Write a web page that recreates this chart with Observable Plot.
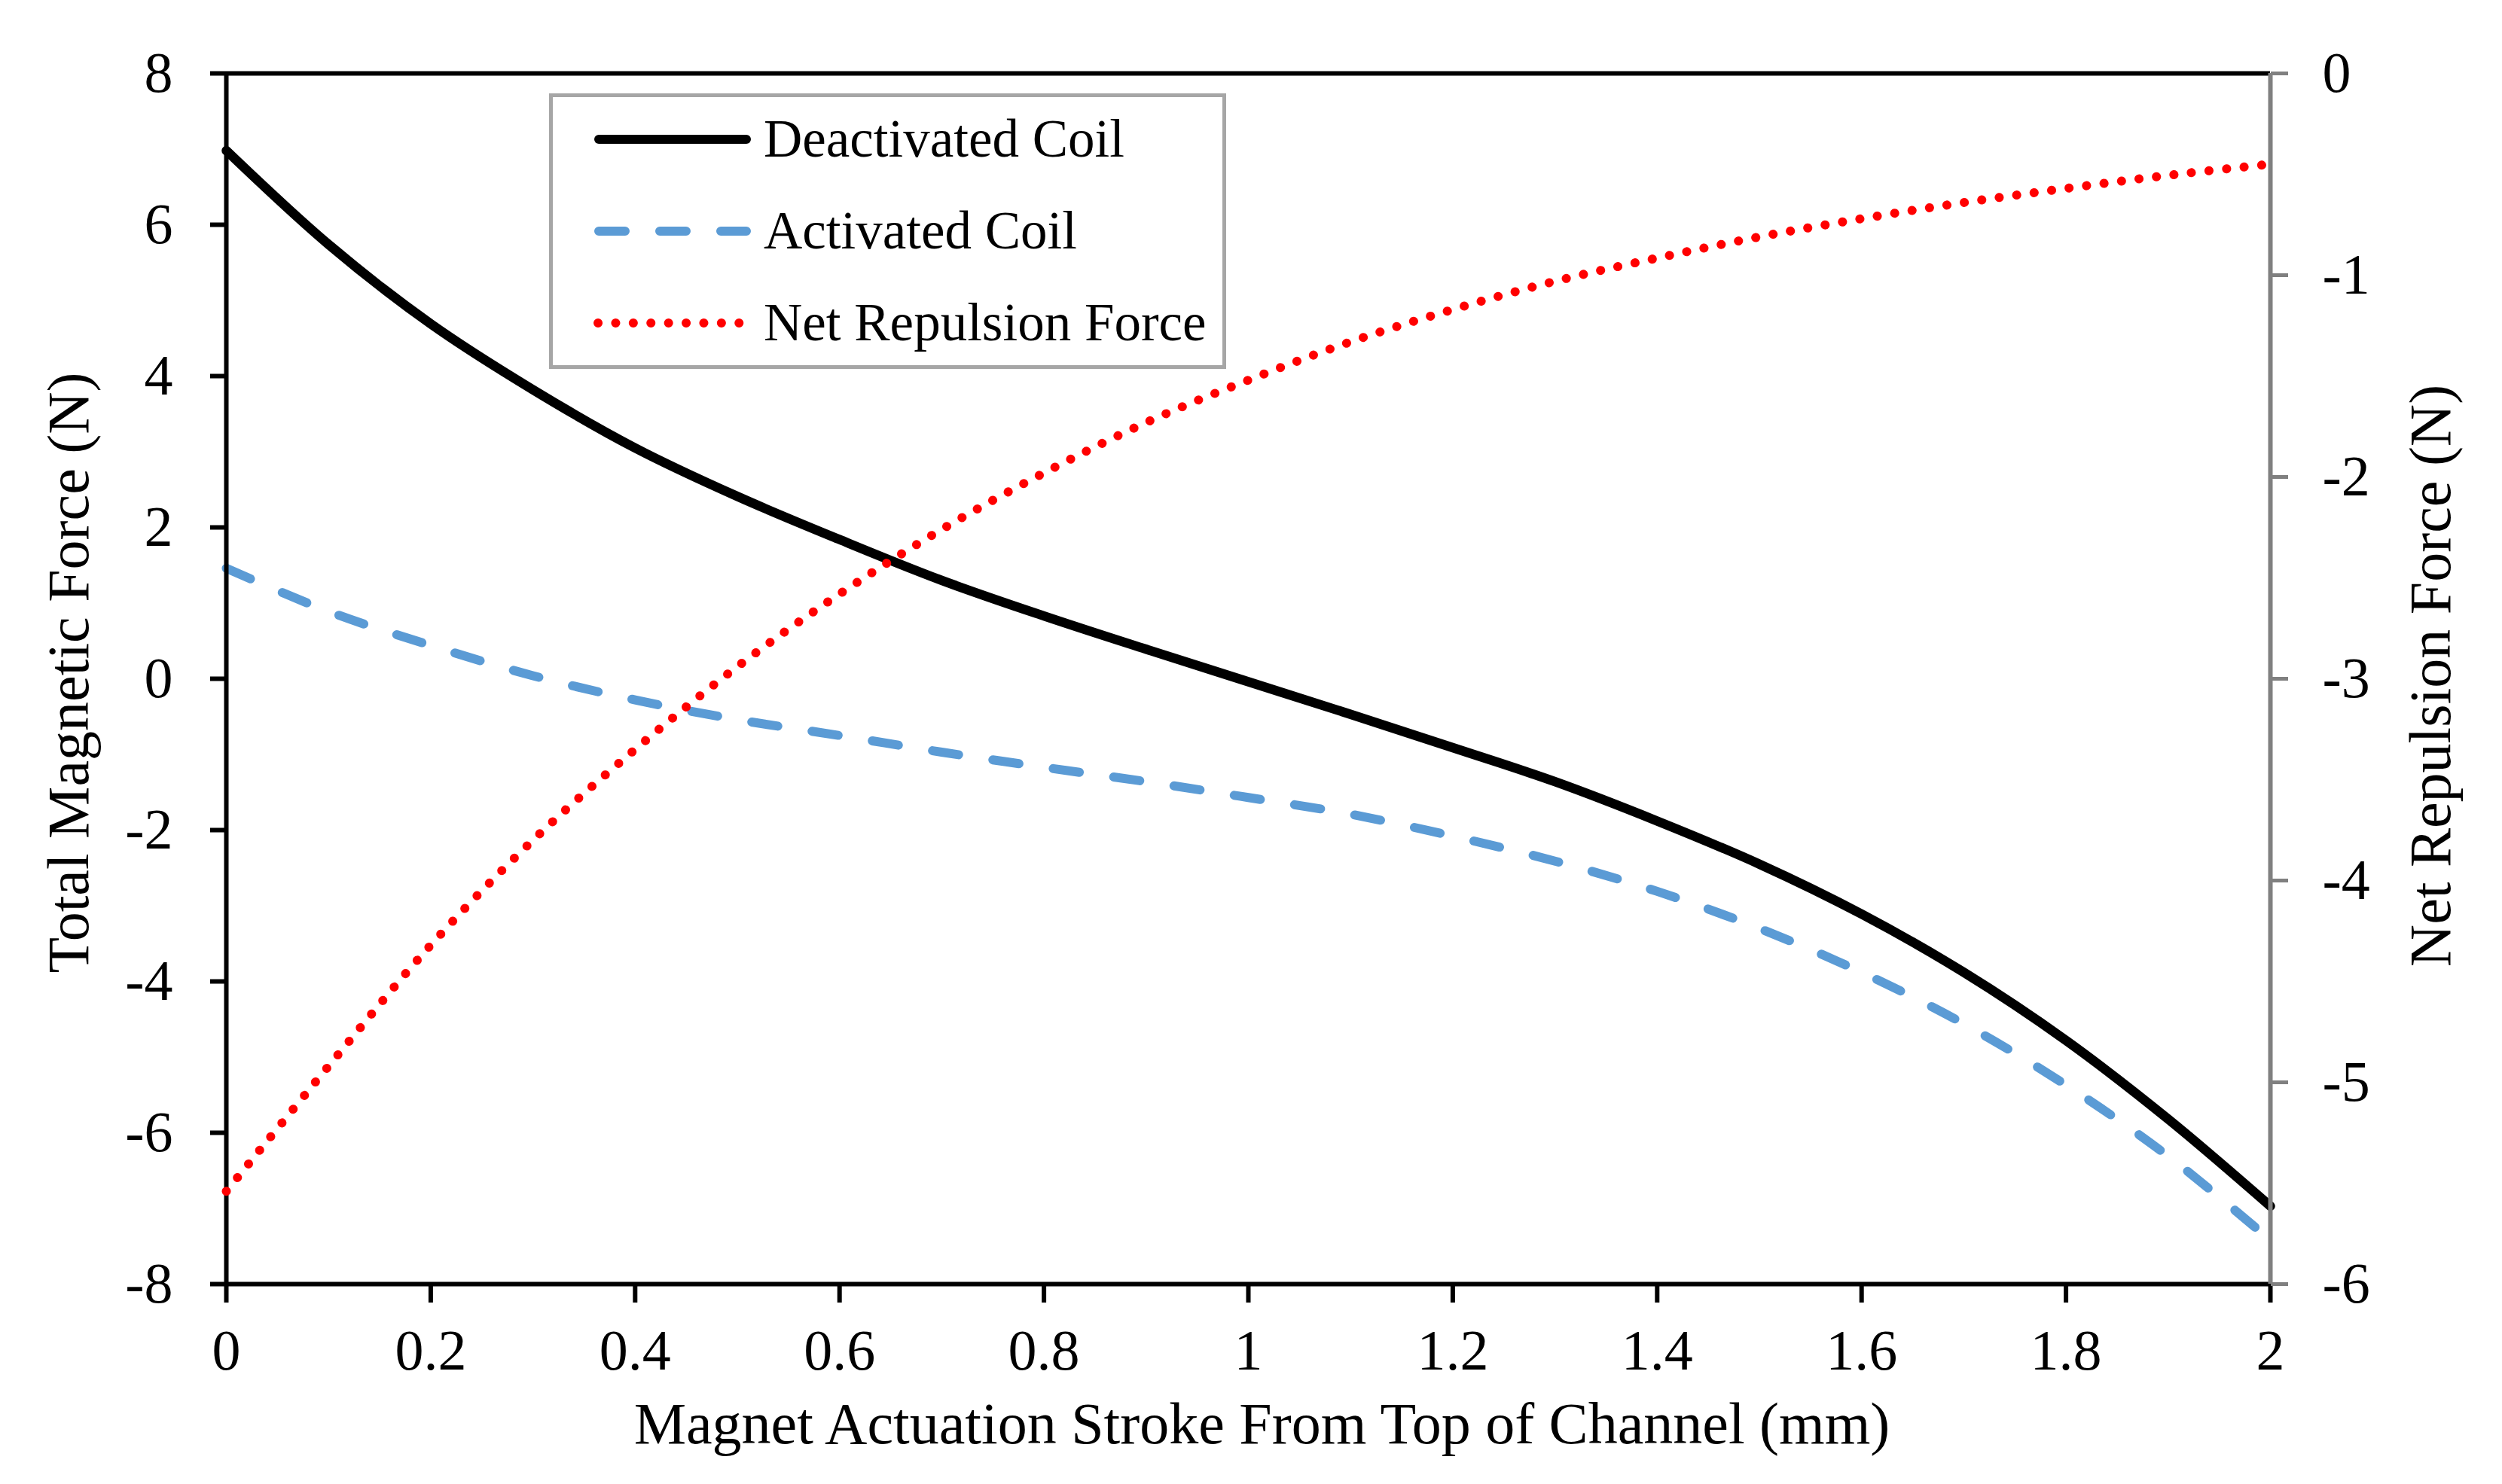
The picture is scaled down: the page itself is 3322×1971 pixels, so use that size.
<!DOCTYPE html>
<html>
<head>
<meta charset="utf-8">
<script src="https://cdn.jsdelivr.net/npm/d3@7"></script>
<script src="https://cdn.jsdelivr.net/npm/@observablehq/plot@0.6"></script>
<style>
html, body { margin: 0; padding: 0; background: #fff; }
#wrap { position: relative; width: 3322px; height: 1971px; overflow: hidden; background: #fff;
        font-family: "Liberation Serif", "Times New Roman", serif; }
#wrap > svg { position: absolute; left: 0; top: 0; }
</style>
</head>
<body>
<div id="wrap"></div>
<script>
// ---- data ----
const stroke = [0, 0.1, 0.2, 0.3, 0.4, 0.5, 0.6, 0.7, 0.8, 0.9, 1.0,
                1.1, 1.2, 1.3, 1.4, 1.5, 1.6, 1.7, 1.8, 1.9, 2.0];
const deactivatedCoil = [6.98, 5.74, 4.69, 3.82, 3.05, 2.41, 1.84, 1.30, 0.83, 0.39, -0.04,
                         -0.47, -0.91, -1.36, -1.88, -2.45, -3.11, -3.88, -4.78, -5.82, -6.97];
const activatedCoil = [1.46, 0.89, 0.44, 0.04, -0.28, -0.54, -0.75, -0.97, -1.17, -1.36, -1.57,
                       -1.79, -2.08, -2.41, -2.81, -3.30, -3.88, -4.56, -5.37, -6.31, -7.42];
const netRepulsion = [-5.54, -4.92, -4.32, -3.80, -3.35, -2.94, -2.58, -2.26, -1.98, -1.73, -1.52,
                      -1.33, -1.17, -1.03, -0.915, -0.81, -0.72, -0.64, -0.57, -0.505, -0.45];

const leftTicks = [-8, -6, -4, -2, 0, 2, 4, 6, 8];
const rightTicks = [-6, -5, -4, -3, -2, -1, 0];
const xTicks = [0, 0.2, 0.4, 0.6, 0.8, 1, 1.2, 1.4, 1.6, 1.8, 2];
const xTickLabels = ["0", "0.2", "0.4", "0.6", "0.8", "1", "1.2", "1.4", "1.6", "1.8", "2"];
const seriesNames = ["Deactivated Coil", "Activated Coil", "Net Repulsion Force"];
const xTitle = "Magnet Actuation Stroke From Top of Channel (mm)";
const yTitle = "Total Magnetic Force (N)";
const y2Title = "Net Repulsion Force (N)";

// ---- layout ----
const W = 3322, H = 1971;
const M = {top: 97, right: 308, bottom: 266, left: 300};
const FONT = "Liberation Serif";
const BLUE = "#5B9BD5", RED = "#FF0000", GRAY = "#808080";
const DASH = "35,46", DOT = "0.1,23.3";

const deact = stroke.map((x, i) => ({x, y: deactivatedCoil[i]}));
const act = stroke.map((x, i) => ({x, y: activatedCoil[i]}));
const net = stroke.map((x, i) => ({x, y: netRepulsion[i]}));

const common = {
  width: W, height: H,
  marginTop: M.top, marginRight: M.right, marginBottom: M.bottom, marginLeft: M.left
};

const p1 = Plot.plot({
  ...common,
  style: {fontFamily: FONT, fontSize: "76px", background: "white", overflow: "visible", color: "#000"},
  x: {domain: [0, 2]},
  y: {domain: [-8, 8]},
  marks: [
    Plot.line(deact, {x: "x", y: "y", stroke: "#000", strokeWidth: 12.5, curve: "catmull-rom"}),
    Plot.line(act, {x: "x", y: "y", stroke: BLUE, strokeWidth: 12, strokeDasharray: DASH,
                    strokeLinecap: "round", curve: "catmull-rom"}),
    Plot.ruleY([8], {stroke: "#000", strokeWidth: 6}),
    Plot.ruleY([-8], {stroke: "#000", strokeWidth: 6}),
    Plot.ruleX([0], {stroke: "#000", strokeWidth: 6}),
    Plot.axisY(leftTicks, {anchor: "left", tickSize: 21, tickPadding: 50, strokeWidth: 6,
                           tickFormat: d => String(d), fontSize: 76, label: null}),
    Plot.axisX(xTicks, {anchor: "bottom", tickSize: 25, tickPadding: 35, strokeWidth: 6,
                        tickFormat: d => xTickLabels[xTicks.indexOf(d)], fontSize: 76, label: null}),
    Plot.text([xTitle], {text: d => d, frameAnchor: "bottom", textAnchor: "middle", lineAnchor: "bottom",
                         dx: 18, dy: 211, fontSize: 78}),
    Plot.text([yTitle], {text: d => d, frameAnchor: "left", rotate: -90, textAnchor: "middle",
                         lineAnchor: "bottom", dx: -184, dy: -8, fontSize: 78})
  ]
});

const p2 = Plot.plot({
  ...common,
  style: {fontFamily: FONT, fontSize: "76px", background: "transparent", overflow: "visible", color: "#000"},
  x: {domain: [0, 2], axis: null},
  y: {domain: [-6, 0], axis: null},
  marks: [
    Plot.ruleX([2], {stroke: GRAY, strokeWidth: 6}),
    Plot.axisY(rightTicks, {anchor: "right", tickSize: 23, tickPadding: 46, stroke: GRAY, strokeWidth: 5,
                            fill: "#000", tickFormat: d => String(d), fontSize: 76, label: null}),
    Plot.line(net, {x: "x", y: "y", stroke: RED, strokeWidth: 12, strokeDasharray: DOT,
                    strokeLinecap: "round", curve: "catmull-rom"}),
    Plot.text([y2Title], {text: d => d, frameAnchor: "right", rotate: -90, textAnchor: "middle",
                          lineAnchor: "bottom", dx: 238, dy: -4, fontSize: 78})
  ]
});

const wrap = document.getElementById("wrap");
wrap.appendChild(p1);
wrap.appendChild(p2);

// ---- legend ----
const LX = 729, LY = 124, LW = 899, LH = 366;
const legend = d3.create("svg")
  .attr("width", LW).attr("height", LH)
  .style("position", "absolute").style("left", LX + "px").style("top", LY + "px")
  .style("font-family", FONT);
legend.append("rect").attr("x", 2.5).attr("y", 2.5).attr("width", LW - 5).attr("height", LH - 5)
  .attr("fill", "#fff").attr("stroke", "#A6A6A6").attr("stroke-width", 5);
const rows = [
  {name: seriesNames[0], stroke: "#000", dash: null, x1: 66, x2: 262},
  {name: seriesNames[1], stroke: BLUE, dash: DASH, x1: 66, x2: 262},
  {name: seriesNames[2], stroke: RED, dash: DOT, x1: 65, x2: 252.5}
];
const rowY = [61, 183, 305];
rows.forEach((r, i) => {
  const g = legend.append("g");
  const ln = g.append("line").attr("x1", r.x1).attr("x2", r.x2).attr("y1", rowY[i]).attr("y2", rowY[i])
    .attr("stroke", r.stroke).attr("stroke-width", 12).attr("stroke-linecap", "round");
  if (r.dash) ln.attr("stroke-dasharray", r.dash);
  g.append("text").attr("x", 285).attr("y", rowY[i]).attr("dy", "0.33em")
    .attr("font-size", 71).attr("fill", "#000").text(r.name);
});
wrap.appendChild(legend.node());
</script>
</body>
</html>
